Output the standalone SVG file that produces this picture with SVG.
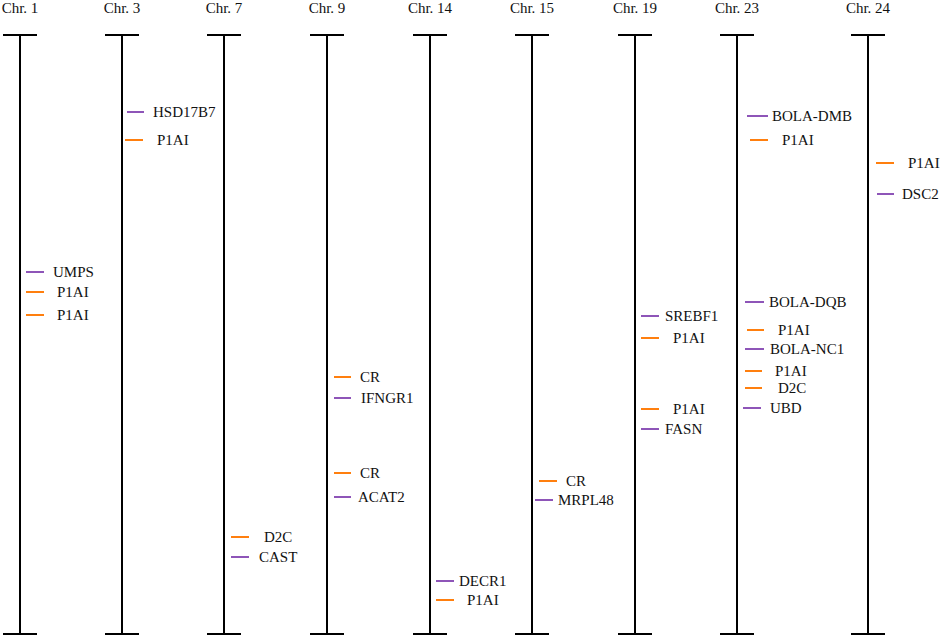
<svg xmlns="http://www.w3.org/2000/svg" width="941" height="638" viewBox="0 0 941 638">
<style>
.chr{stroke:#000;stroke-width:2;fill:none}
.t{font-family:"Liberation Serif",serif;font-size:15px;fill:#111}
.h{text-anchor:middle}
.p{stroke:#8e55b8;stroke-width:2}
.o{stroke:#ff7f0e;stroke-width:2}
</style>
<rect width="941" height="638" fill="#fff"/>
<g id="connectors">
<g id="chr1"><text class="t h" x="20" y="13">Chr. 1</text><path class="chr" d="M20 35V634M3 35H37M3 634H37"/></g>
<g id="chr3"><text class="t h" x="122" y="13">Chr. 3</text><path class="chr" d="M122 35V634M105 35H139M105 634H139"/></g>
<g id="chr7"><text class="t h" x="224" y="13">Chr. 7</text><path class="chr" d="M224 35V634M207 35H241M207 634H241"/></g>
<g id="chr9"><text class="t h" x="327" y="13">Chr. 9</text><path class="chr" d="M327 35V634M310 35H344M310 634H344"/></g>
<g id="chr14"><text class="t h" x="430" y="13">Chr. 14</text><path class="chr" d="M430 35V634M413 35H447M413 634H447"/></g>
<g id="chr15"><text class="t h" x="532" y="13">Chr. 15</text><path class="chr" d="M532 35V634M515 35H549M515 634H549"/></g>
<g id="chr19"><text class="t h" x="635" y="13">Chr. 19</text><path class="chr" d="M635 35V634M618 35H652M618 634H652"/></g>
<g id="chr23"><text class="t h" x="737" y="13">Chr. 23</text><path class="chr" d="M737 35V634M720 35H754M720 634H754"/></g>
<g id="chr24"><text class="t h" x="868" y="13">Chr. 24</text><path class="chr" d="M868 35V634M851 35H885M851 634H885"/></g>
</g>
<g id="genes-chr1">
<line class="p" x1="26" y1="272" x2="44" y2="272"/><text class="t" x="53" y="277">UMPS</text>
<line class="o" x1="26" y1="292" x2="44" y2="292"/><text class="t" x="57" y="297">P1AI</text>
<line class="o" x1="26" y1="315" x2="44" y2="315"/><text class="t" x="57" y="320">P1AI</text>
</g>
<g id="genes-chr3">
<line class="p" x1="127" y1="112" x2="144" y2="112"/><text class="t" x="153" y="117">HSD17B7</text>
<line class="o" x1="125" y1="140" x2="143" y2="140"/><text class="t" x="157" y="145">P1AI</text>
</g>
<g id="genes-chr7">
<line class="o" x1="231" y1="537" x2="249" y2="537"/><text class="t" x="264" y="542">D2C</text>
<line class="p" x1="231" y1="557" x2="249" y2="557"/><text class="t" x="259" y="562">CAST</text>
</g>
<g id="genes-chr9">
<line class="o" x1="334" y1="377" x2="351" y2="377"/><text class="t" x="360" y="382">CR</text>
<line class="p" x1="334" y1="398" x2="351" y2="398"/><text class="t" x="361" y="403">IFNGR1</text>
<line class="o" x1="334" y1="473" x2="351" y2="473"/><text class="t" x="360" y="478">CR</text>
<line class="p" x1="334" y1="497" x2="351" y2="497"/><text class="t" x="358" y="502">ACAT2</text>
</g>
<g id="genes-chr14">
<line class="p" x1="436" y1="581" x2="454" y2="581"/><text class="t" x="459" y="586">DECR1</text>
<line class="o" x1="436" y1="600" x2="454" y2="600"/><text class="t" x="467" y="605">P1AI</text>
</g>
<g id="genes-chr15">
<line class="o" x1="539" y1="481" x2="557" y2="481"/><text class="t" x="566" y="486">CR</text>
<line class="p" x1="535" y1="500" x2="553" y2="500"/><text class="t" x="558" y="505">MRPL48</text>
</g>
<g id="genes-chr19">
<line class="p" x1="641" y1="316" x2="659" y2="316"/><text class="t" x="665" y="321">SREBF1</text>
<line class="o" x1="641" y1="338" x2="659" y2="338"/><text class="t" x="673" y="343">P1AI</text>
<line class="o" x1="641" y1="409" x2="659" y2="409"/><text class="t" x="673" y="414">P1AI</text>
<line class="p" x1="641" y1="429" x2="659" y2="429"/><text class="t" x="665" y="434">FASN</text>
</g>
<g id="genes-chr23">
<line class="p" x1="747" y1="116" x2="768" y2="116"/><text class="t" x="772" y="121">BOLA-DMB</text>
<line class="o" x1="750" y1="140" x2="768" y2="140"/><text class="t" x="782" y="145">P1AI</text>
<line class="p" x1="745" y1="302" x2="764" y2="302"/><text class="t" x="769" y="307">BOLA-DQB</text>
<line class="o" x1="747" y1="330" x2="764" y2="330"/><text class="t" x="778" y="335">P1AI</text>
<line class="p" x1="745" y1="349" x2="764" y2="349"/><text class="t" x="770" y="354">BOLA-NC1</text>
<line class="o" x1="745" y1="371" x2="762" y2="371"/><text class="t" x="775" y="376">P1AI</text>
<line class="o" x1="745" y1="388" x2="762" y2="388"/><text class="t" x="778" y="393">D2C</text>
<line class="p" x1="743" y1="408" x2="761" y2="408"/><text class="t" x="770" y="413">UBD</text>
</g>
<g id="genes-chr24">
<line class="o" x1="876" y1="163" x2="894" y2="163"/><text class="t" x="908" y="168">P1AI</text>
<line class="p" x1="877" y1="194" x2="894" y2="194"/><text class="t" x="902" y="199">DSC2</text>
</g>
</svg>
